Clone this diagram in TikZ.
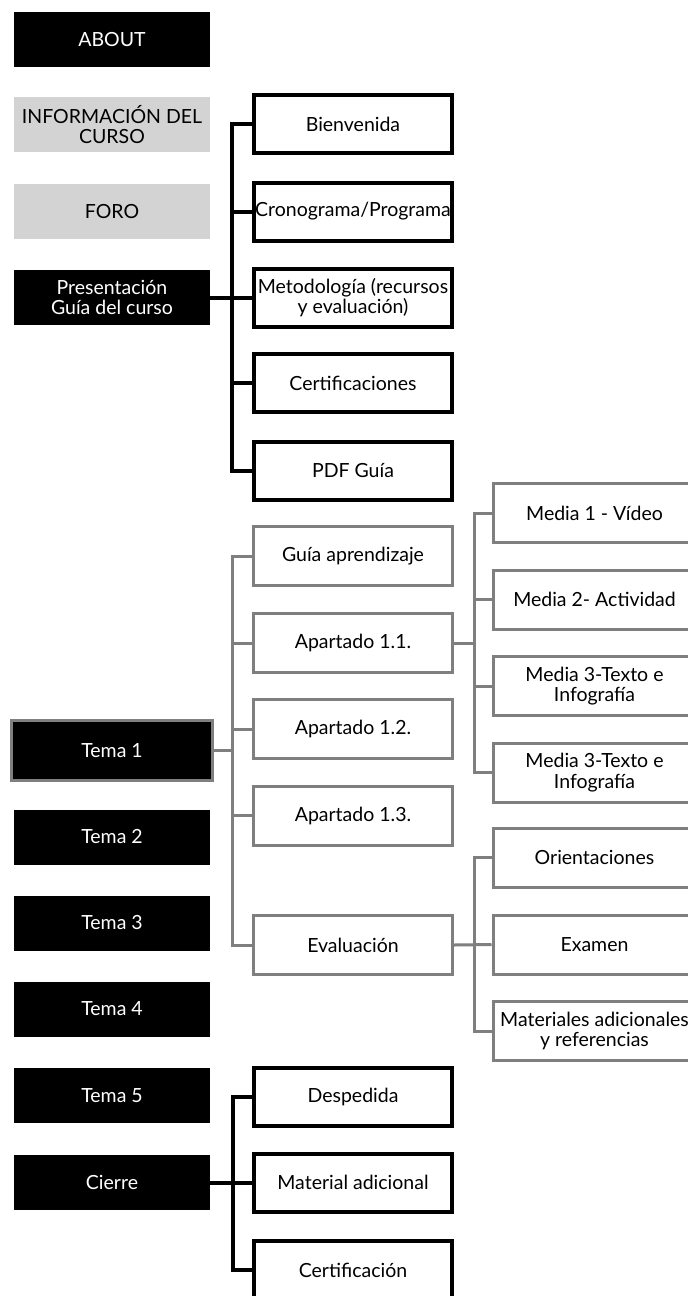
\documentclass[tikz,border=0pt]{standalone}
\usepackage{fontspec}
\setmainfont{Lato}
\definecolor{lightbox}{HTML}{D3D3D3}
\definecolor{lineg}{HTML}{7F7F7F}
\begin{document}
\begin{tikzpicture}[x=1pt,y=-1pt,
  txt/.style={font=\fontsize{19.5}{20.5}\selectfont, align=center, inner sep=0pt},
  leftbox/.style={txt, minimum width=196pt, minimum height=55pt},
  blk/.style={leftbox, fill=black, text=white},
  lgt/.style={leftbox, fill=lightbox, text=black},
  wbox/.style={txt, draw=black, line width=4pt, fill=white, minimum width=198pt, minimum height=58pt},
  gbox/.style={txt, draw=lineg, line width=3pt, fill=white, minimum width=199pt, minimum height=59pt},
  gboxr/.style={gbox, minimum width=203pt},
  bline/.style={draw=black, line width=4pt},
  gline/.style={draw=lineg, line width=3pt}
]
\path[use as bounding box, clip] (0,0) rectangle (688,1296);
\fill[white] (0,0) rectangle (688,1296);

% left column
\node[blk] (about) at (112,39.5) {ABOUT};
\node[lgt] (info) at (112,124.5) {INFORMACIÓN DEL\\CURSO};
\node[lgt] (foro) at (112,211.5) {FORO};
\node[blk] (pres) at (112,297.5) {Presentación\\Guía del curso};
\node[blk, draw=lineg, line width=3pt, minimum width=201pt, minimum height=60pt] (tema1) at (112,750.5) {Tema 1};
\node[blk] (tema2) at (112,837) {Tema 2};
\node[blk] (tema3) at (112,923) {Tema 3};
\node[blk] (tema4) at (112,1009) {Tema 4};
\node[blk] (tema5) at (112,1095.5) {Tema 5};
\node[blk] (cierre) at (112,1182.5) {Cierre};

% presentación children
\node[wbox] (bien) at (353,124) {Bienvenida};
\node[wbox] (crono) at (353,211.5) {Cronograma/Programa};
\node[wbox] (metod) at (353,297.5) {Metodología (recursos\\y evaluación)};
\node[wbox] (certs) at (353,383) {Certificaciones};
\node[wbox] (pdf) at (353,471) {PDF Guía};

% tema 1 children
\node[gbox] (guia) at (353,556) {Guía aprendizaje};
\node[gbox] (ap11) at (353,643) {Apartado 1.1.};
\node[gbox] (ap12) at (353,729) {Apartado 1.2.};
\node[gbox] (ap13) at (353,815.5) {Apartado 1.3.};
\node[gbox] (eval) at (353,945) {Evaluación};

% apartado 1.1 children
\node[gboxr] (m1) at (594.5,513) {Media 1 - Vídeo};
\node[gboxr] (m2) at (594.5,599.5) {Media 2- Actividad};
\node[gboxr] (m3) at (594.5,686) {Media 3-Texto e\\Infografía};
\node[gboxr] (m4) at (594.5,772.5) {Media 3-Texto e\\Infografía};

% evaluación children
\node[gboxr] (orient) at (594.5,857.5) {Orientaciones};
\node[gboxr] (exam) at (594.5,944.5) {Examen};
\node[gboxr] (mater) at (594.5,1031) {Materiales adicionales\\y referencias};

% cierre children
\node[wbox] (desp) at (353,1096.5) {Despedida};
\node[wbox] (matad) at (353,1182.5) {Material adicional};
\node[wbox] (certf) at (353,1270) {Certificación};

% trunk coordinates
\coordinate (ta) at (232,0);
\coordinate (tb) at (232.5,0);
\coordinate (tc) at (474,0);
\coordinate (td) at (233,0);

% presentación tree
\draw[bline] (bien.west) -- (bien.west -| ta) -- (pdf.west -| ta) -- (pdf.west);
\draw[bline] (pres.east) -- (metod.west);
\draw[bline] (crono.west) -- (crono.west -| ta);
\draw[bline] (certs.west) -- (certs.west -| ta);

% tema 1 tree
\draw[gline] (guia.west) -- (guia.west -| tb) -- (eval.west -| tb) -- (eval.west);
\draw[gline] (tema1.east) -- (tema1.east -| tb);
\draw[gline] (ap11.west) -- (ap11.west -| tb);
\draw[gline] (ap12.west) -- (ap12.west -| tb);
\draw[gline] (ap13.west) -- (ap13.west -| tb);

% apartado 1.1 tree
\draw[gline] (m1.west) -- (m1.west -| tc) -- (m4.west -| tc) -- (m4.west);
\draw[gline] (ap11.east) -- (ap11.east -| tc);
\draw[gline] (m2.west) -- (m2.west -| tc);
\draw[gline] (m3.west) -- (m3.west -| tc);

% evaluación tree
\draw[gline] (orient.west) -- (orient.west -| tc) -- (mater.west -| tc) -- (mater.west);
\draw[gline] (eval.east) -- (exam.west);

% cierre tree
\draw[bline] (desp.west) -- (desp.west -| td) -- (certf.west -| td) -- (certf.west);
\draw[bline] (cierre.east) -- (matad.west);
\end{tikzpicture}
\end{document}
